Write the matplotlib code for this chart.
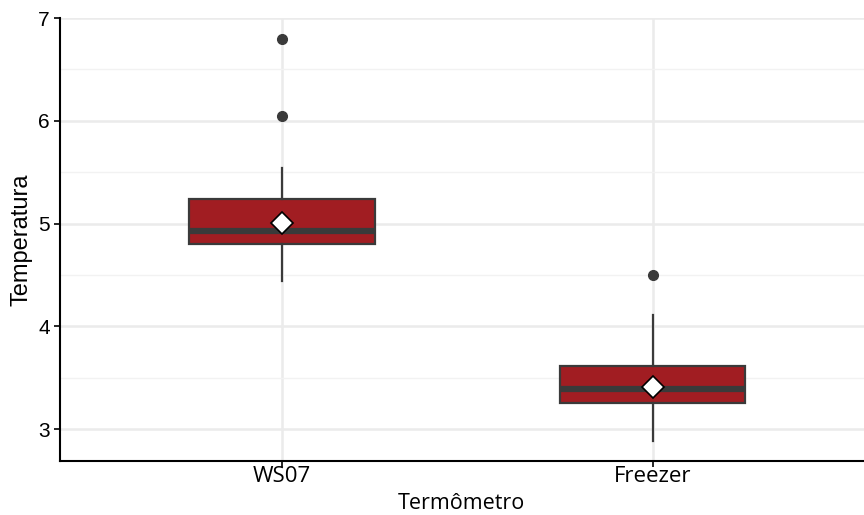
import matplotlib.pyplot as plt

# summary stats
termometros = ['WS07', 'Freezer']
q1 = [4.805, 3.253]
medianas = [4.93, 3.39]
q3 = [5.243, 3.613]
whisk_lo = [4.44, 2.88]
whisk_hi = [5.545, 4.11]
medias = [5.01, 3.41]
outliers = [[6.05, 6.80], [4.50]]

stats = []
for i, nome in enumerate(termometros):
    stats.append({
        'label': nome, 'q1': q1[i], 'med': medianas[i], 'q3': q3[i],
        'whislo': whisk_lo[i], 'whishi': whisk_hi[i], 'mean': medias[i],
        'fliers': outliers[i],
    })

fig, ax = plt.subplots(figsize=(8.64, 5.15), dpi=100)
fig.subplots_adjust(left=0.069, right=1.0, top=0.965, bottom=0.105)

edge = '#3a3a3a'
ax.bxp(stats, positions=[1, 2], widths=0.5, patch_artist=True,
       showmeans=True, showcaps=False,
       boxprops=dict(facecolor='#a11d22', edgecolor=edge, linewidth=1.6),
       medianprops=dict(color=edge, linewidth=4.5),
       whiskerprops=dict(color=edge, linewidth=1.6),
       flierprops=dict(marker='o', markerfacecolor=edge, markeredgecolor=edge, markersize=7),
       meanprops=dict(marker='D', markerfacecolor='white', markeredgecolor='black',
                      markersize=11, markeredgewidth=1.2),
       zorder=3)

ax.set_xlim(0.4, 2.57)
ax.set_ylim(2.69, 7.0)
ax.set_yticks([3, 4, 5, 6, 7])
ax.set_yticks([3.5, 4.5, 5.5, 6.5], minor=True)
ax.grid(True, which='major', color='#ebebeb', linewidth=1.8, zorder=0)
ax.grid(True, which='minor', axis='y', color='#f2f2f2', linewidth=1.0, zorder=0)
ax.tick_params(axis='y', which='minor', length=0)
ax.tick_params(axis='both', which='major', length=4, width=1.2, color='black', pad=3)
ax.tick_params(axis='x', pad=0)
ax.set_axisbelow(True)

for s in ['top', 'right']:
    ax.spines[s].set_visible(False)
for s in ['left', 'bottom']:
    ax.spines[s].set_linewidth(1.5)

ax.set_xticks([1, 2])
ax.set_xticklabels(termometros, fontfamily='Open Sans', fontsize=16)
for lbl in ax.get_yticklabels():
    lbl.set_fontfamily('Liberation Sans')
    lbl.set_fontsize(15)
ax.set_xlabel('Termômetro', fontfamily='Open Sans', fontsize=15.5, labelpad=4)
ax.set_ylabel('Temperatura', fontfamily='Liberation Sans', fontsize=17, labelpad=4)

plt.savefig('out.png')
